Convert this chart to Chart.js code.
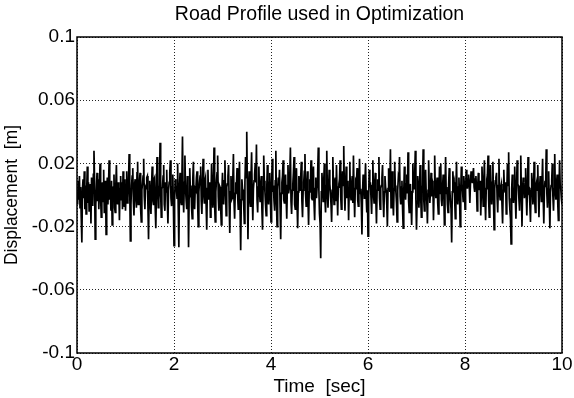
<!DOCTYPE html>
<html>
<head>
<meta charset="utf-8">
<title>Road Profile</title>
<script src="https://cdn.jsdelivr.net/npm/chart.js@4.4.1/dist/chart.umd.min.js"></script>
<style>
  html, body { margin: 0; padding: 0; background: #fff; }
  #roadChart { display: block; }
</style>
</head>
<body>
<canvas id="roadChart" width="574" height="398"></canvas>
<script>
// Road displacement in millimetres, one sample every 0.0125 s (0 .. 10 s), 40 samples per row
const sampleStep = 0.0125;
const displacementMm = [
  2, -6, 9, -3, 12, -8, 5, -14, -30, 4, 10, -2, 15, -9, 6, -12, 3, 18, -5, 8, -10, 1, 7, -18, 11, 4, -7, 13, 28, 9, -28, -6, 3, 14, -4, 10, -9, 6, 20, -2,
  -14, 5, 8, -4, 16, -11, 3, 9, -25, 2, 11, -6, 7, 22, -3, 4, -10, 9, -19, 1, 5, 13, -8, -11, 6, 19, -2, -6, 8, 2, -16, 4, 12, -3, 8, -9, 15, 0, -7, 10,
  -10, 3, 15, -5, -2, 9, 26, 4, -29, -6, 6, 12, 17, -4, -13, 7, 10, -2, -8, 14, 21, -6, -4, 8, 14, -9, -17, 3, 7, 12, 23, -1, -9, 5, 4, 11, 12, -7, -28, 2,
  9, -5, -12, 6, 18, -3, -6, 10, 11, -8, -21, 2, 24, 7, -8, -3, 6, 33, 1, -14, 4, 5, 12, 19, -6, -10, 8, 2, 16, -4, -18, 3, 8, 14, 22, -2, -7, 5, 13, -6,
  -32, -4, 10, 6, 4, -2, 20, -8, -33, 5, 14, -3, -6, 9, 37, 2, -11, 8, 25, 4, -3, -9, 12, 6, -33, -1, 17, 3, 6, -8, -15, 10, 21, -2, -9, 4, 3, 11, 15, -5,
  -20, 2, 8, 12, 18, -4, -12, 7, 23, 1, -5, 9, 11, -6, -22, 4, 16, -3, 1, 8, -14, -2, 20, 5, -8, 3, 30, -6, -17, 2, 9, 14, 25, -1, -10, 6, 5, -8, -19, 3,
  14, -2, -6, 9, 22, 3, -13, 5, 7, 12, 19, -5, -24, 2, 12, -3, -2, 10, 26, -4, -15, 1, 8, 6, 17, -1, -9, 7, 21, -8, -35, -3, 10, 4, 3, -6, -18, 8, 24, 11,
  40, 6, -28, 3, 15, -2, -7, 10, 27, 1, -16, 4, 9, 13, 20, 8, 32, -3, -11, 5, 18, 2, -4, 7, 12, -9, -22, 5, 25, 9, 2, -6, -13, 4, 19, 1, -6, 8, 14, -3,
  -17, 5, 23, 2, 6, -4, -10, 9, 28, -5, -20, 3, 11, 6, 16, -8, -28, 1, 8, 12, 22, -3, -5, 7, 13, -2, -15, 6, 19, 1, 4, 12, 30, -4, -12, 3, 7, 14, 24, -6,
  -9, 4, 17, -6, -21, 2, 12, 5, 3, 11, 21, -4, -14, 3, 8, 15, 26, 1, -7, 6, 15, -3, -19, 2, 10, 8, 22, -2, -3, 7, 18, -5, -16, 4, 11, -2, 5, 14, 30, 3,
  -12, -18, -40, 2, 14, 5, -4, 9, 20, -3, -11, 6, 28, 1, -8, 4, 16, 7, 2, -6, -17, 3, 24, 5, -6, 8, 11, -4, 19, 2, -13, 5, 7, 10, 22, -1, -9, 4, 15, 6,
  31, 4, -10, 6, 18, -2, 5, 9, -16, 3, 21, 1, -3, 7, 12, -5, 25, 2, -14, 4, 9, 8, 17, -3, -7, 5, 23, 1, 4, -6, -25, 2, 13, 6, -2, 9, 20, -1, -11, 3,
  -26, -3, 16, 5, 8, -2, -12, 6, 22, 1, -5, 7, 14, -4, -18, 3, 10, 8, 24, -2, -9, 4, 6, 11, 19, -3, -14, 2, 12, 5, 3, -6, -20, 4, 17, 8, 2, 29, -8, 5,
  15, -2, -13, 4, 21, 6, 2, -5, -17, 3, 11, 9, 24, -1, -6, 5, 9, -8, -21, 2, 18, 4, -3, 7, 13, 1, 27, -4, -11, 3, 7, -6, -19, 2, 20, 5, 4, 12, 28, -3,
  -22, -4, 12, 3, -8, 6, 19, -2, -14, 4, 6, 29, -3, -10, 5, 16, 1, -4, -18, 3, 22, 6, -5, 2, 14, -1, 9, 7, -16, 2, 25, 4, -2, 6, 11, -5, -12, 3, 18, 1,
  20, -3, -7, 5, 13, 2, -19, 4, 24, 1, 5, -6, -11, 7, 17, 3, -4, -9, -30, 2, 15, 6, 8, -3, -15, 4, 21, 1, -6, 5, 11, -2, -20, 3, 18, 7, 2, -4, 12, 6,
  -9, 3, 16, 8, 4, 10, 13, 6, -5, 7, 15, 9, 8, 12, 17, 5, 2, 10, 12, 4, -10, 6, 14, 3, 6, 9, -13, 2, 18, 5, -7, 8, 22, -2, -16, 4, 10, 13, 25, -3,
  -14, 2, 19, 5, -6, 8, 21, -3, -22, 4, 9, 11, 14, -2, -11, 6, 23, 1, -3, 5, 7, -6, -18, 3, 16, 4, 2, 8, -12, 3, 20, 6, 27, -2, -9, -15, -31, 4, 13, 6,
  -5, 3, 18, -2, -15, 4, 22, 7, 6, -3, -10, 5, 25, 1, -20, 3, 11, 8, -2, 4, 17, -1, -13, 5, 24, 2, 3, -6, -17, 4, 14, 7, -6, 2, 21, -4, -11, 6, 8, 3,
  19, 1, -14, 4, 12, 6, -4, 8, 23, -2, -18, 3, 9, 5, 29, 1, -8, 4, 15, -3, -21, 2, 6, 9, 20, -1, -10, 4, 26, 3, -3, 7, 13, -5, -16, 2, 22, 6, 4, -2,
  -6
];
const yTickValues = [-0.1, -0.06, -0.02, 0.02, 0.06, 0.1];
const yTickLabels = ['-0.1', '-0.06', '-0.02', '0.02', '0.06', '0.1'];
const xTickValues = [0, 2, 4, 6, 8, 10];

const points = displacementMm.map((mm, i) => ({ x: i * sampleStep, y: mm / 1000 }));

Chart.defaults.font.family = '"Liberation Sans", Arial, Helvetica, sans-serif';
Chart.defaults.color = '#000';

// closed box around the plot area, like a classic axes frame
const frameBox = {
  id: 'frameBox',
  afterDatasetsDraw(chart) {
    const { ctx, chartArea: a } = chart;
    ctx.save();
    ctx.strokeStyle = '#000';
    ctx.lineWidth = 1.5;
    ctx.strokeRect(a.left, a.top, a.right - a.left, a.bottom - a.top);
    ctx.restore();
  }
};

const gridStyle = {
  color: '#222',
  lineWidth: 1,
  drawTicks: false
};

new Chart(document.getElementById('roadChart'), {
  type: 'line',
  data: {
    datasets: [{
      label: 'Road profile',
      data: points,
      xAxisID: 'x',
      borderColor: '#000',
      borderWidth: 1.7,
      pointRadius: 0,
      tension: 0
    }]
  },
  options: {
    responsive: false,
    animation: false,
    layout: { padding: { left: 0, right: 12, top: 0, bottom: 0 } },
    plugins: {
      legend: { display: false },
      tooltip: { enabled: false }
    },
    scales: {
      // top axis only carries the title so it sits centred over the plot
      top: {
        type: 'linear',
        position: 'top',
        min: 0,
        max: 10,
        afterFit: (scale) => { scale.height = 37; },
        grid: { display: false },
        border: { display: false },
        ticks: { display: false },
        title: {
          display: true,
          text: 'Road Profile used in Optimization',
          font: { size: 19.5 },
          padding: { top: 3, bottom: 0 }
        }
      },
      x: {
        type: 'linear',
        min: 0,
        max: 10,
        afterBuildTicks: (scale) => { scale.ticks = xTickValues.map(v => ({ value: v })); },
        afterFit: (scale) => { scale.height = 45; },
        grid: gridStyle,
        border: { display: false, dash: [1, 2] },
        ticks: { font: { size: 19 }, padding: 0, maxRotation: 0 },
        title: {
          display: true,
          text: 'Time  [sec]',
          font: { size: 19 },
          padding: { top: -12, bottom: 0 }
        }
      },
      y: {
        min: -0.1,
        max: 0.1,
        afterBuildTicks: (scale) => { scale.ticks = yTickValues.map(v => ({ value: v })); },
        afterFit: (scale) => { scale.width = 77; },
        grid: gridStyle,
        border: { display: false, dash: [1, 2] },
        ticks: {
          font: { size: 19 },
          padding: 2,
          callback: (value) => yTickLabels[yTickValues.indexOf(value)]
        },
        title: {
          display: true,
          text: 'Displacement  [m]',
          font: { size: 17.5 },
          padding: { top: 2, bottom: 0 }
        }
      }
    }
  },
  plugins: [frameBox]
});
</script>
</body>
</html>
